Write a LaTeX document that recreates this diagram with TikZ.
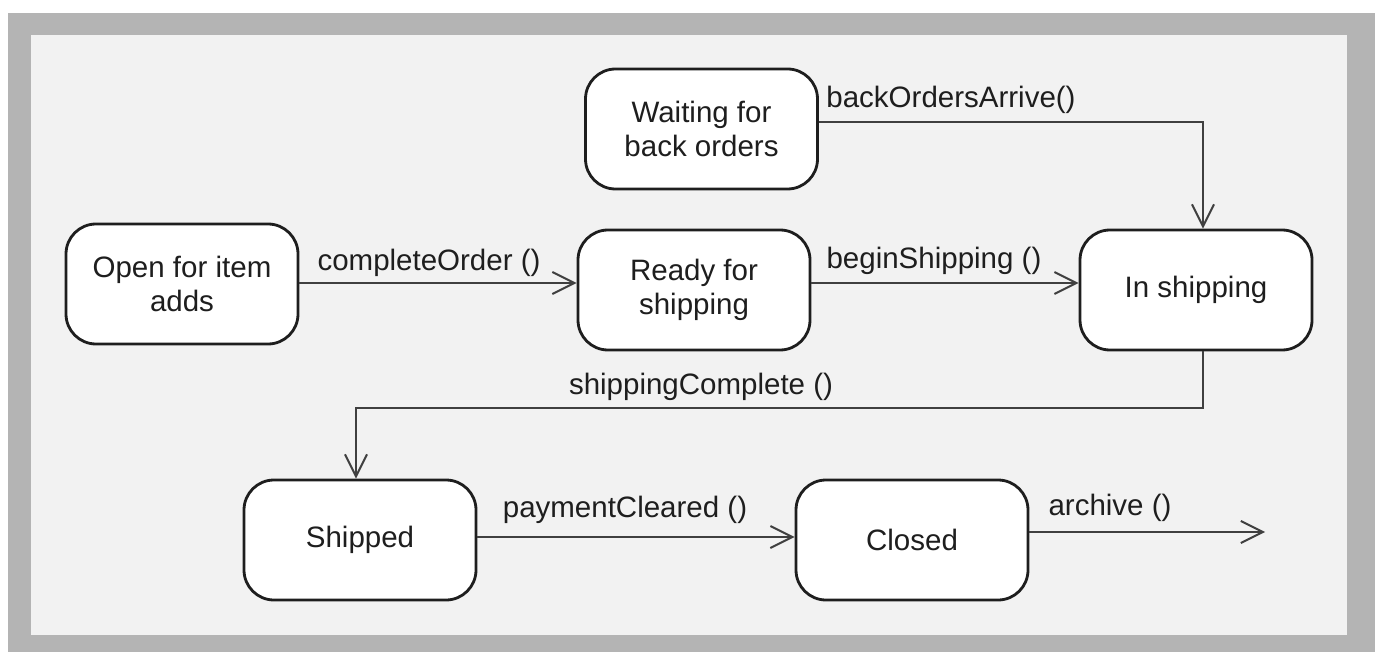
\documentclass[tikz,border=0pt]{standalone}
\usepackage{fontspec}
\setmainfont{Liberation Sans}
\usetikzlibrary{arrows.meta,calc}
\definecolor{framegray}{HTML}{B4B4B4}
\definecolor{panel}{HTML}{F2F2F2}
\definecolor{ink}{HTML}{1E1E1E}
\begin{document}
\begin{tikzpicture}[x=1pt,y=-1pt,
  state/.style={draw=ink,fill=white,line width=2.8pt,rounded corners=30pt,
    minimum width=232pt,minimum height=120pt,align=center,text=ink,
    font=\fontsize{29.5}{34}\selectfont,inner sep=0pt},
  arr/.style={draw=ink!85,line width=2pt,-{Straight Barb[length=22pt,width=22pt,line width=2pt]}},
  lbl/.style={text=ink,font=\fontsize{29.5}{34}\selectfont,inner sep=0pt}]
\useasboundingbox (0,0) rectangle (1375,652);
\fill[white] (0,0) rectangle (1375,652);
\fill[framegray] (8,13) rectangle (1375,652);
\fill[panel] (31,35) rectangle (1347,635);
% states
\node[state] (open) at (182,284) {Open for item\\adds};
\node[state] (ready) at (694,290) {Ready for\\shipping};
\node[state] (wait) at (701.5,129) {Waiting for\\back orders};
\node[state] (inship) at (1196,290) {In shipping};
\node[state] (shipped) at (360,540) {Shipped};
\node[state] (closed) at (912,540) {Closed};
\coordinate (end) at (1265,532);
% transitions
\draw[arr] (open.east |- 0,283) -- (ready.west |- 0,283);
\draw[arr] (ready.east |- 0,283) -- (inship.west |- 0,283);
\draw[arr] (wait.east |- 0,122) -| (1203,0 |- inship.north);
\draw[arr] (1203,0 |- inship.south) |- (356,408) -- (356,0 |- shipped.north);
\draw[arr] (shipped.east |- 0,537) -- (closed.west |- 0,537);
\draw[arr] (closed.east |- 0,532) -- (end);
% labels
\node[lbl] (l1) at (429,263) {completeOrder ()};
\node[lbl] (l2) at (934,261) {beginShipping ()};
\node[lbl] (l3) at (951,100) {backOrdersArrive()};
\node[lbl] (l4) at (701,387) {shippingComplete ()};
\node[lbl] (l5) at (625,510) {paymentCleared ()};
\node[lbl] (l6) at (1110,508) {archive ()};
\end{tikzpicture}
\end{document}
